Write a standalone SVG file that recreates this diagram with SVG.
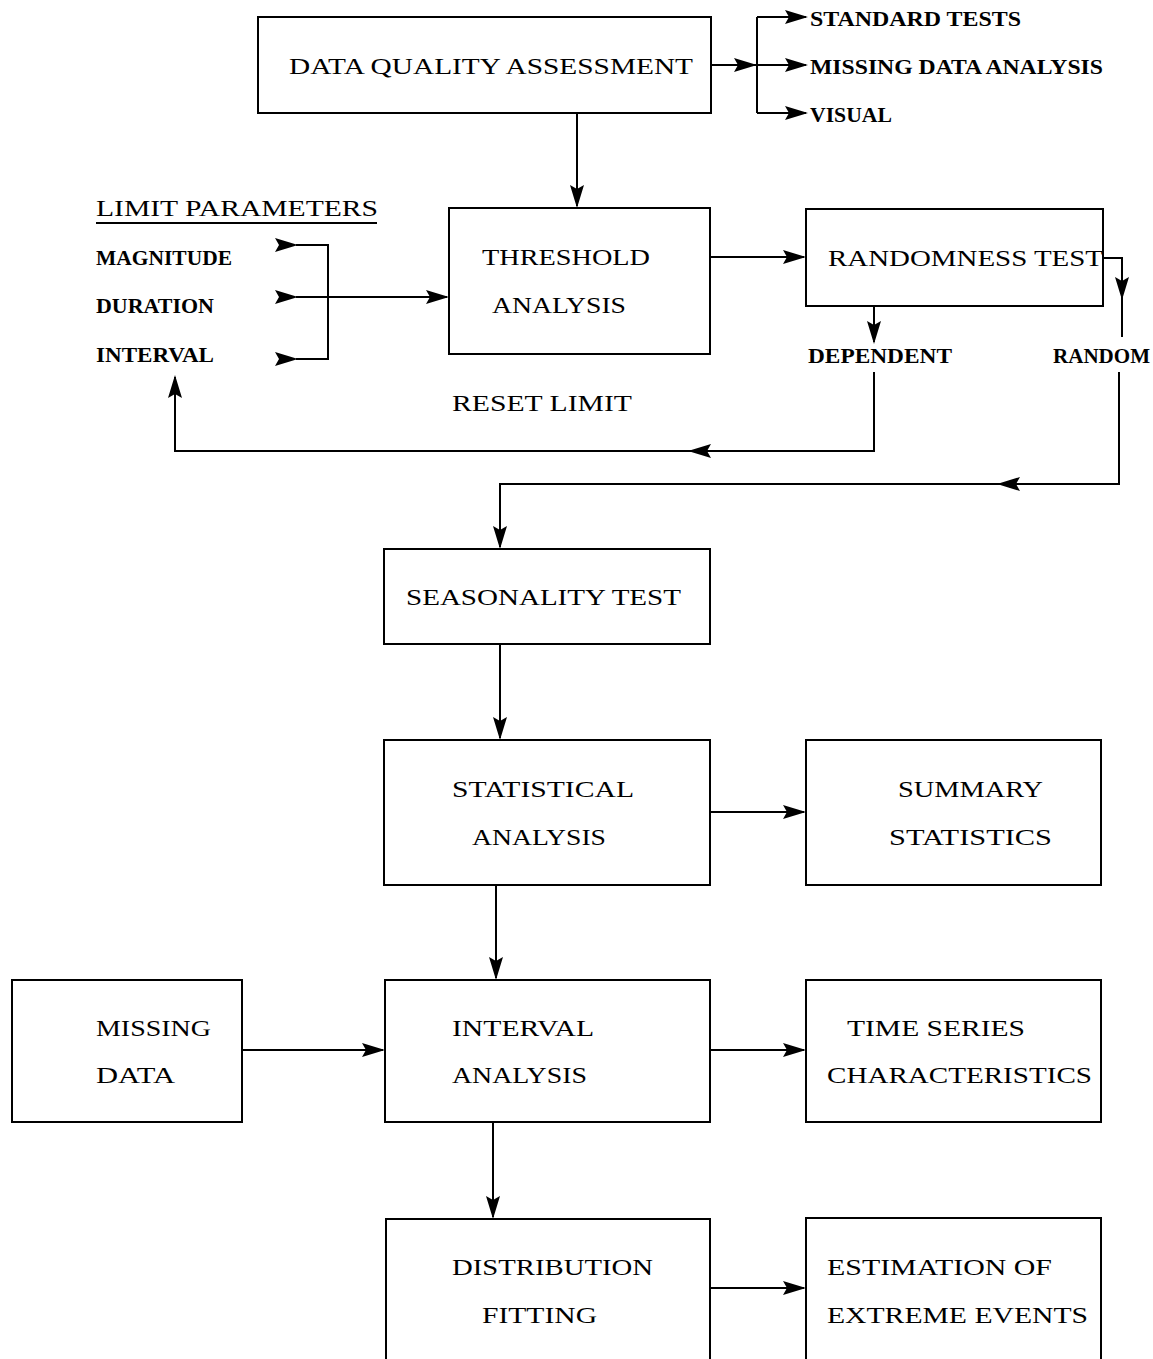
<svg xmlns="http://www.w3.org/2000/svg" xmlns:xlink="http://www.w3.org/1999/xlink" width="1153" height="1359" viewBox="0 0 1153 1359">
<style>
.box{fill:none;stroke:#000;stroke-width:2}
.ln{fill:none;stroke:#000;stroke-width:2}
.t{font-family:"Liberation Serif","Times New Roman",serif;font-size:24px;fill:#000}
.b{font-family:"Liberation Serif","Times New Roman",serif;font-size:21px;font-weight:bold;fill:#000}
</style>
<defs>
<path id="ah" d="M0,0 L-23,-7 L-19,0 L-23,7 Z" fill="#000"/>
</defs>
<rect width="1153" height="1359" fill="#fff"/>

<g id="connectors">
<path class="ln" d="M711,65 H757 M757,17 V113 M757,17 H806 M757,65 H806 M757,113 H806"/>
<use xlink:href="#ah" transform="translate(757,65)"/>
<use xlink:href="#ah" transform="translate(808,17)"/>
<use xlink:href="#ah" transform="translate(808,65)"/>
<use xlink:href="#ah" transform="translate(808,113)"/>
<path class="ln" d="M577,113 V206"/>
<use xlink:href="#ah" transform="translate(577,208) rotate(90)"/>
<path class="ln" d="M296,245 H328 V359 H296 M296,297 H447"/>
<use xlink:href="#ah" transform="translate(298,245)"/>
<use xlink:href="#ah" transform="translate(298,297)"/>
<use xlink:href="#ah" transform="translate(298,359)"/>
<use xlink:href="#ah" transform="translate(449,297)"/>
<path class="ln" d="M710,257 H804"/>
<use xlink:href="#ah" transform="translate(806,257)"/>
<path class="ln" d="M1103,258 H1122 V337"/>
<use xlink:href="#ah" transform="translate(1122,300) rotate(90)"/>
<path class="ln" d="M1119,372 V484 H500 V547"/>
<use xlink:href="#ah" transform="translate(997,484) rotate(180)"/>
<use xlink:href="#ah" transform="translate(500,549) rotate(90)"/>
<path class="ln" d="M874,306 V342"/>
<use xlink:href="#ah" transform="translate(874,344) rotate(90)"/>
<path class="ln" d="M874,372 V451 H175 V377"/>
<use xlink:href="#ah" transform="translate(688,451) rotate(180)"/>
<use xlink:href="#ah" transform="translate(175,375) rotate(-90)"/>
<path class="ln" d="M500,644 V738"/>
<use xlink:href="#ah" transform="translate(500,740) rotate(90)"/>
<path class="ln" d="M710,812 H804"/>
<use xlink:href="#ah" transform="translate(806,812)"/>
<path class="ln" d="M496,885 V978"/>
<use xlink:href="#ah" transform="translate(496,980) rotate(90)"/>
<path class="ln" d="M242,1050 H383"/>
<use xlink:href="#ah" transform="translate(385,1050)"/>
<path class="ln" d="M710,1050 H804"/>
<use xlink:href="#ah" transform="translate(806,1050)"/>
<path class="ln" d="M493,1122 V1217"/>
<use xlink:href="#ah" transform="translate(493,1219) rotate(90)"/>
<path class="ln" d="M710,1288 H804"/>
<use xlink:href="#ah" transform="translate(806,1288)"/>
</g>

<g id="dqa">
<rect class="box" x="258" y="17" width="453" height="96"/>
<text class="t" x="289" y="74" textLength="404" lengthAdjust="spacingAndGlyphs">DATA QUALITY ASSESSMENT</text>
</g>
<g id="outputs-dqa">
<text class="b" x="810" y="26" textLength="211" lengthAdjust="spacingAndGlyphs">STANDARD TESTS</text>
<text class="b" x="810" y="74" textLength="293" lengthAdjust="spacingAndGlyphs">MISSING DATA ANALYSIS</text>
<text class="b" x="810" y="122" textLength="82" lengthAdjust="spacingAndGlyphs">VISUAL</text>
</g>
<g id="limit-parameters">
<text class="t" x="96" y="216" textLength="282" lengthAdjust="spacingAndGlyphs">LIMIT PARAMETERS</text>
<line class="ln" x1="96" y1="223" x2="377" y2="223" stroke-width="1.5"/>
<text class="b" x="96" y="265" textLength="136" lengthAdjust="spacingAndGlyphs">MAGNITUDE</text>
<text class="b" x="96" y="313" textLength="118" lengthAdjust="spacingAndGlyphs">DURATION</text>
<text class="b" x="96" y="362" textLength="118" lengthAdjust="spacingAndGlyphs">INTERVAL</text>
</g>
<g id="threshold">
<rect class="box" x="449" y="208" width="261" height="146"/>
<text class="t" x="482" y="265" textLength="168" lengthAdjust="spacingAndGlyphs">THRESHOLD</text>
<text class="t" x="492" y="313" textLength="134" lengthAdjust="spacingAndGlyphs">ANALYSIS</text>
</g>
<g id="randomness">
<rect class="box" x="806" y="209" width="297" height="97"/>
<text class="t" x="828" y="266" textLength="275" lengthAdjust="spacingAndGlyphs">RANDOMNESS TEST</text>
</g>
<g id="dependent"><text class="b" x="808" y="363" textLength="144" lengthAdjust="spacingAndGlyphs">DEPENDENT</text></g>
<g id="random"><text class="b" x="1053" y="363" textLength="97" lengthAdjust="spacingAndGlyphs">RANDOM</text></g>
<g id="reset-limit"><text class="t" x="452" y="411" textLength="180" lengthAdjust="spacingAndGlyphs">RESET LIMIT</text></g>
<g id="seasonality">
<rect class="box" x="384" y="549" width="326" height="95"/>
<text class="t" x="406" y="605" textLength="275" lengthAdjust="spacingAndGlyphs">SEASONALITY TEST</text>
</g>
<g id="statistical">
<rect class="box" x="384" y="740" width="326" height="145"/>
<text class="t" x="452" y="797" textLength="182" lengthAdjust="spacingAndGlyphs">STATISTICAL</text>
<text class="t" x="472" y="845" textLength="134" lengthAdjust="spacingAndGlyphs">ANALYSIS</text>
</g>
<g id="summary">
<rect class="box" x="806" y="740" width="295" height="145"/>
<text class="t" x="898" y="797" textLength="145" lengthAdjust="spacingAndGlyphs">SUMMARY</text>
<text class="t" x="889" y="845" textLength="163" lengthAdjust="spacingAndGlyphs">STATISTICS</text>
</g>
<g id="missing-data">
<rect class="box" x="12" y="980" width="230" height="142"/>
<text class="t" x="96" y="1036" textLength="115" lengthAdjust="spacingAndGlyphs">MISSING</text>
<text class="t" x="96" y="1083" textLength="79" lengthAdjust="spacingAndGlyphs">DATA</text>
</g>
<g id="interval">
<rect class="box" x="385" y="980" width="325" height="142"/>
<text class="t" x="452" y="1036" textLength="142" lengthAdjust="spacingAndGlyphs">INTERVAL</text>
<text class="t" x="452" y="1083" textLength="135" lengthAdjust="spacingAndGlyphs">ANALYSIS</text>
</g>
<g id="time-series">
<rect class="box" x="806" y="980" width="295" height="142"/>
<text class="t" x="847" y="1036" textLength="178" lengthAdjust="spacingAndGlyphs">TIME SERIES</text>
<text class="t" x="827" y="1083" textLength="265" lengthAdjust="spacingAndGlyphs">CHARACTERISTICS</text>
</g>
<g id="distribution">
<path class="box" d="M386,1359 V1219 H710 V1359"/>
<text class="t" x="452" y="1275" textLength="201" lengthAdjust="spacingAndGlyphs">DISTRIBUTION</text>
<text class="t" x="482" y="1323" textLength="115" lengthAdjust="spacingAndGlyphs">FITTING</text>
</g>
<g id="estimation">
<path class="box" d="M806,1359 V1218 H1101 V1359"/>
<text class="t" x="827" y="1275" textLength="225" lengthAdjust="spacingAndGlyphs">ESTIMATION OF</text>
<text class="t" x="827" y="1323" textLength="261" lengthAdjust="spacingAndGlyphs">EXTREME EVENTS</text>
</g>
</svg>
